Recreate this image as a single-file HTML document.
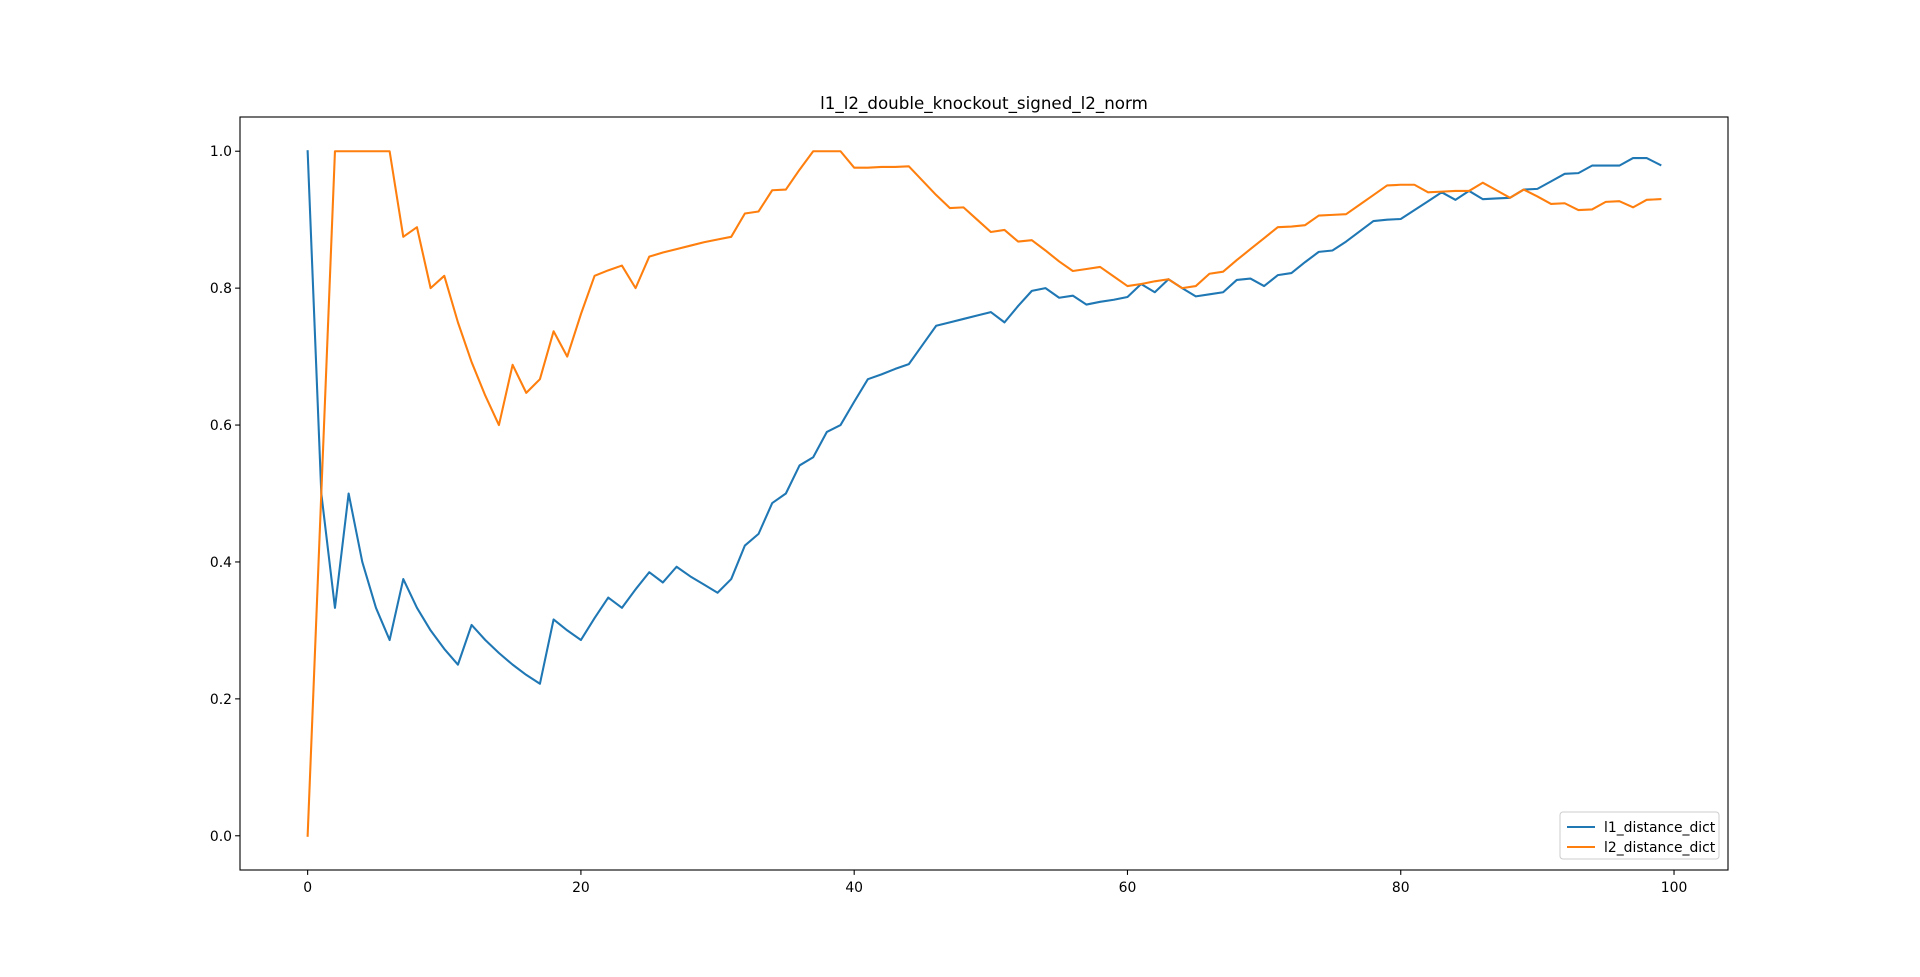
<!DOCTYPE html>
<html><head><meta charset="utf-8"><style>
html,body{margin:0;padding:0;background:#fff;}
svg{display:block;font-family:"DejaVu Sans","Liberation Sans",sans-serif;}
</style></head><body>
<svg id="chart" width="1920" height="977" xmlns="http://www.w3.org/2000/svg"></svg>
<script>
const xTicks=[0,20,40,60,80,100];
const yTicks=[0.0,0.2,0.4,0.6,0.8,1.0];
const yTickLabels=["0.0","0.2","0.4","0.6","0.8","1.0"];
const l1Values=[1.0,0.5,0.333,0.5,0.4,0.333,0.286,0.375,0.333,0.3,0.273,0.25,0.308,0.286,0.267,0.25,0.235,0.222,0.316,0.3,0.286,0.318,0.348,0.333,0.36,0.385,0.37,0.393,0.379,0.367,0.355,0.375,0.424,0.441,0.486,0.5,0.541,0.553,0.59,0.6,0.634,0.667,0.674,0.682,0.689,0.717,0.745,0.75,0.755,0.76,0.765,0.75,0.774,0.796,0.8,0.786,0.789,0.776,0.78,0.783,0.787,0.806,0.794,0.813,0.8,0.788,0.791,0.794,0.812,0.814,0.803,0.819,0.822,0.838,0.853,0.855,0.868,0.883,0.898,0.9,0.901,0.914,0.927,0.94,0.929,0.942,0.93,0.931,0.932,0.944,0.945,0.956,0.967,0.968,0.979,0.979,0.979,0.99,0.99,0.98];
const l2Values=[0,0.5,1,1,1,1,1,0.875,0.889,0.8,0.818,0.75,0.692,0.643,0.6,0.688,0.647,0.667,0.737,0.7,0.762,0.818,0.826,0.833,0.8,0.846,0.852,0.857,0.862,0.867,0.871,0.875,0.909,0.912,0.943,0.944,0.973,1,1,1,0.976,0.976,0.977,0.977,0.978,0.957,0.936,0.917,0.918,0.9,0.882,0.885,0.868,0.87,0.855,0.839,0.825,0.828,0.831,0.817,0.803,0.806,0.81,0.813,0.8,0.803,0.821,0.824,0.841,0.857,0.873,0.889,0.89,0.892,0.906,0.907,0.908,0.922,0.936,0.95,0.951,0.951,0.94,0.941,0.942,0.942,0.954,0.943,0.932,0.944,0.934,0.923,0.924,0.914,0.915,0.926,0.927,0.918,0.929,0.93];
const seriesNames=["l1_distance_dict","l2_distance_dict"];

const svg=document.getElementById('chart');
const NS="http://www.w3.org/2000/svg";
const L=240,R=1728,T=117,B=870;
const n=l1Values.length;
const xmin=-(n-1)*0.05, xmax=(n-1)*1.05;
const allV=l1Values.concat(l2Values);
const vmin=Math.min(...allV), vmax=Math.max(...allV), pad=(vmax-vmin)*0.05;
const ymin=vmin-pad, ymax=vmax+pad;
function xs(v){return L+(v-xmin)/(xmax-xmin)*(R-L);}
function ys(v){return B-(v-ymin)/(ymax-ymin)*(B-T);}
function mk(tag,attrs){const e=document.createElementNS(NS,tag);for(const k in attrs)e.setAttribute(k,attrs[k]);svg.appendChild(e);return e;}

const title=mk('text',{x:(L+R)/2,y:109,'text-anchor':'middle','font-size':'16.7px',fill:'#000'});
title.textContent='l1_l2_double_knockout_signed_l2_norm';



xTicks.forEach(t=>{
  const x=xs(t);
  const tk=mk('line',{x1:x,x2:x,y1:B,y2:B+4.9,stroke:'#000','stroke-width':1.1});
  
  
  const lb=mk('text',{x:x,y:B+22,'text-anchor':'middle','font-size':'13.9px',fill:'#000'});
  lb.textContent=String(t);
  
  
});
yTicks.forEach((t,i)=>{
  const y=ys(t);
  const tk=mk('line',{x1:L-4.9,x2:L,y1:y,y2:y,stroke:'#000','stroke-width':1.1});
  
  
  const lb=mk('text',{x:L-8,y:y+5,'text-anchor':'end','font-size':'13.9px',fill:'#000'});
  lb.textContent=yTickLabels[i];
  
  
});

const colors=['#1f77b4','#ff7f0e'];
[l1Values,l2Values].forEach((vals,si)=>{
  const pts=vals.map((v,i)=>xs(i).toFixed(2)+','+ys(v).toFixed(2)).join(' ');
  const pl=mk('polyline',{points:pts,fill:'none',stroke:colors[si],'stroke-width':2.08,'stroke-linejoin':'round','stroke-linecap':'square'});
  
  
});

const frame=mk('rect',{x:L,y:T,width:R-L,height:B-T,fill:'none',stroke:'#000','stroke-width':1.1});



const lg=mk('rect',{x:1560,y:812,width:159,height:47,rx:3,fill:'#fff','fill-opacity':0.8,stroke:'#ccc','stroke-width':1});


seriesNames.forEach((nm,i)=>{
  const y=827+i*20;
  const ln=mk('line',{x1:1567,x2:1595,y1:y,y2:y,stroke:colors[i],'stroke-width':2.08});
  
  
  const tx=mk('text',{x:1604,y:y+5,'font-size':'13.9px',fill:'#000'});
  tx.textContent=nm;
  
  
});
</script>
</body></html>
